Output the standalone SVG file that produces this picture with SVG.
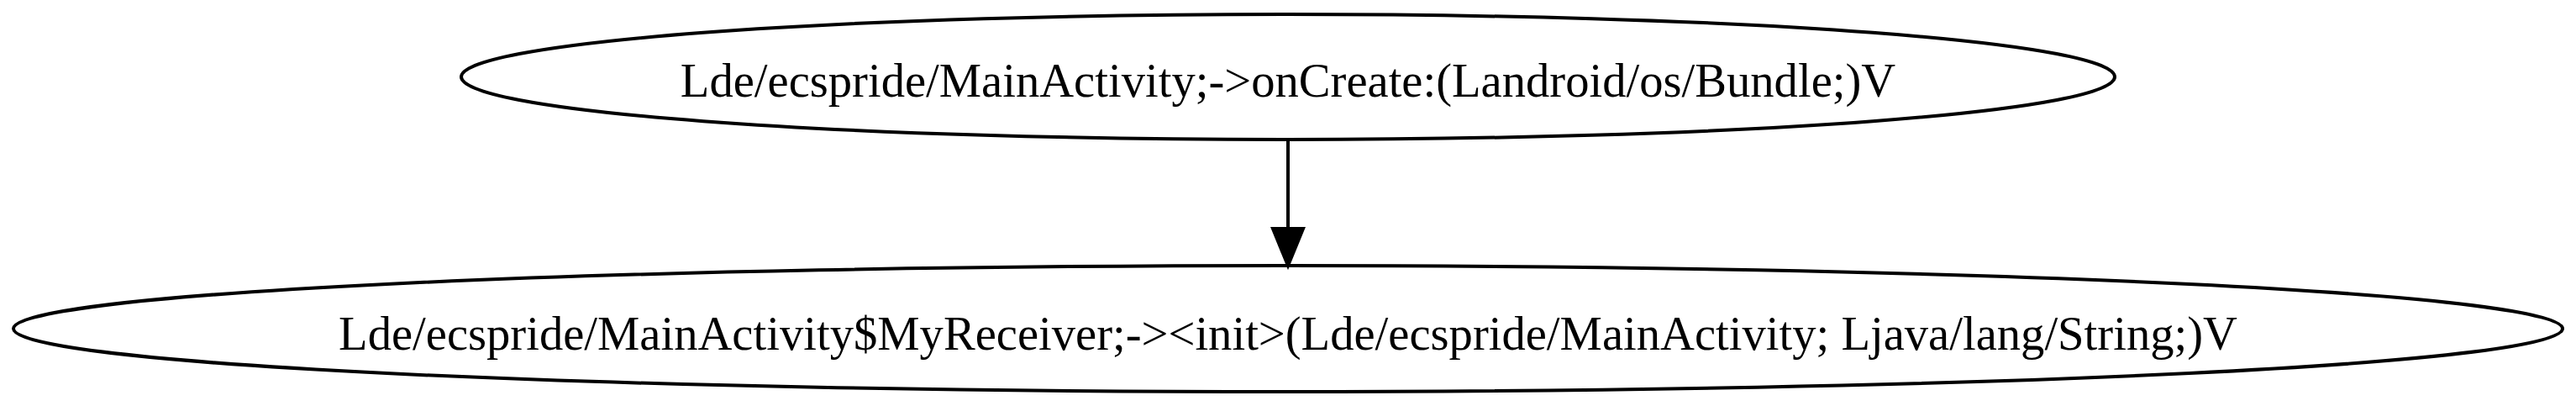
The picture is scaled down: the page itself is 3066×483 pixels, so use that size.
<svg xmlns="http://www.w3.org/2000/svg" width="3066" height="483" viewBox="0 0 3066 483">
<style>
.node ellipse{fill:none;stroke:#000;stroke-width:4}
.node text{font-family:"Liberation Serif","Times New Roman",serif;font-size:56.6px;fill:#000;text-anchor:middle}
.edge line{stroke:#000;stroke-width:4}
.edge path{fill:#000;stroke:#000;stroke-width:4}
</style>
<rect width="3066" height="483" fill="#fff"/>
<g id="edges" class="edge">
<line x1="1533" y1="166" x2="1533" y2="275"/>
<path d="M1515,272 L1551,272 L1533,316 Z"/>
</g>
<g id="node1" class="node">
<ellipse cx="1533" cy="91.5" rx="984" ry="74.5"/>
<text x="1533" y="115">Lde/ecspride/MainActivity;-&gt;onCreate:(Landroid/os/Bundle;)V</text>
</g>
<g id="node2" class="node">
<ellipse cx="1533" cy="391" rx="1517" ry="75"/>
<text x="1533" y="416">Lde/ecspride/MainActivity$MyReceiver;-&gt;&lt;init&gt;(Lde/ecspride/MainActivity; Ljava/lang/String;)V</text>
</g>
</svg>
